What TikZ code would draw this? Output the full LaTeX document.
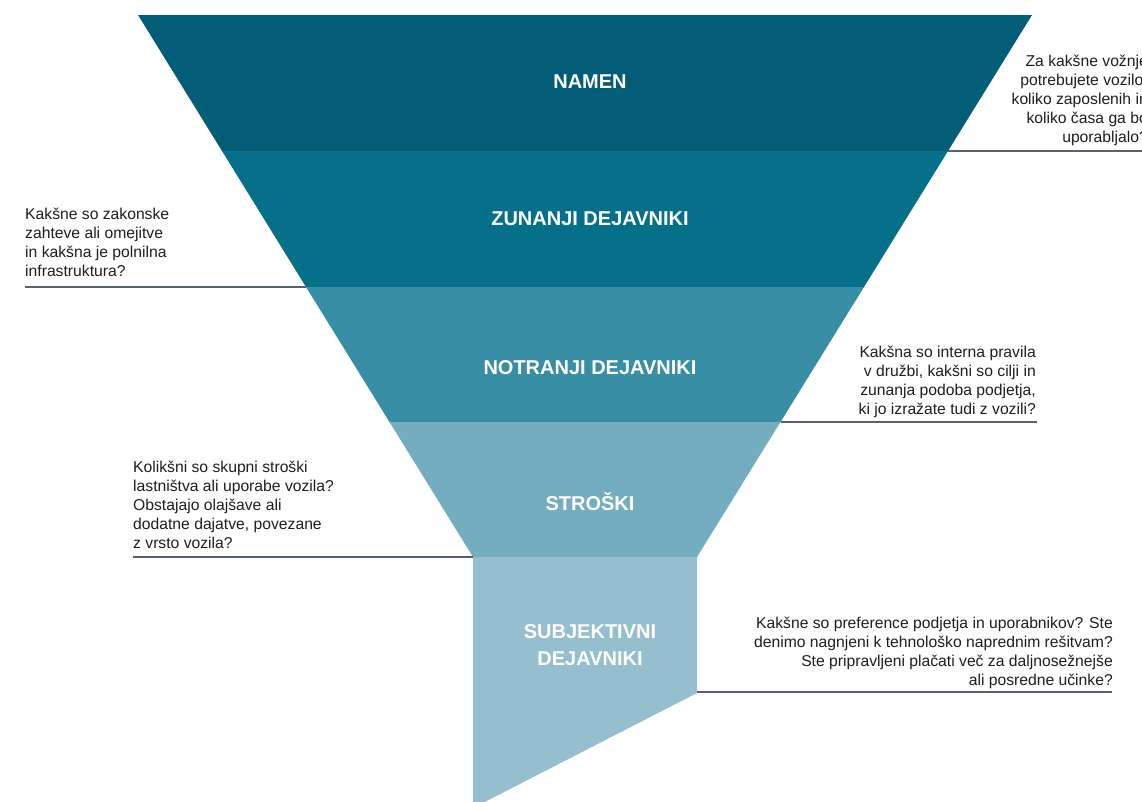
\documentclass[tikz,border=0pt]{standalone}
\usepackage{fontspec}
\setmainfont{Liberation Sans}

\definecolor{namenc}{HTML}{035D76}
\definecolor{zunanjic}{HTML}{066F89}
\definecolor{notranjic}{HTML}{388EA5}
\definecolor{stroskic}{HTML}{74ADC0}
\definecolor{subjc}{HTML}{95BECF}
\definecolor{rulec}{HTML}{56616B}
\definecolor{qtextc}{HTML}{1E1E1E}

\begin{document}
\begin{tikzpicture}[x=1pt,y=-1pt,
        title/.style={text=white,font=\bfseries\fontsize{20}{27}\selectfont,align=center,inner sep=0pt},
        question/.style={text=qtextc,font=\fontsize{15.7}{18.9}\selectfont,inner sep=0pt},
        rule/.style={draw=rulec,line width=1.8pt}]
        \useasboundingbox (0,0) rectangle (1142,801);
        \clip (0,0) rectangle (1142,801);

        % funnel bands, top to bottom
        \fill[namenc]    (138,15) -- (1032,15) -- (948,151) -- (222,151) -- cycle;
        \fill[zunanjic]  (222,151) -- (948,151) -- (864,287) -- (306,287) -- cycle;
        \fill[notranjic] (306,287) -- (864,287) -- (780.5,422) -- (389.5,422) -- cycle;
        \fill[stroskic]  (389.5,422) -- (780.5,422) -- (697,557) -- (473,557) -- cycle;
        \fill[subjc]     (473,557) -- (697,557) -- (697,693) -- (473,808) -- cycle;

        \node[title] (namen)    at (590,82)  {NAMEN};
        \node[title] (zunanji)  at (590,219) {ZUNANJI DEJAVNIKI};
        \node[title] (notranji) at (590,368) {NOTRANJI DEJAVNIKI};
        \node[title] (stroski)  at (590,502) {STROŠKI};
        \node[title] (subj)     at (590,645) {SUBJEKTIVNI\\DEJAVNIKI};

        % questions beside the funnel
        \node[question,anchor=north east,align=right] (qnamen) at (1148,55)
            {Za kakšne vožnje\\potrebujete vozilo,\\koliko zaposlenih in\\koliko časa ga bo\\uporabljalo?};
        \node[question,anchor=north west,align=left] (qzunanji) at (25,208)
            {Kakšne so zakonske\\zahteve ali omejitve\\in kakšna je polnilna\\infrastruktura?};
        \node[question,anchor=north east,align=right] (qnotranji) at (1036,346)
            {Kakšna so interna pravila\\v družbi, kakšni so cilji in\\zunanja podoba podjetja,\\ki jo izražate tudi z vozili?};
        \node[question,anchor=north west,align=left] (qstroski) at (133,461)
            {Kolikšni so skupni stroški\\lastništva ali uporabe vozila?\\Obstajajo olajšave ali\\dodatne dajatve, povezane\\z vrsto vozila?};
        \node[question,anchor=north east,align=right] (qsubj) at (1113,617)
            {Kakšne so preference podjetja in uporabnikov? Ste\\denimo nagnjeni k tehnološko naprednim rešitvam?\\Ste pripravljeni plačati več za daljnosežnejše\\ali posredne učinke?};

        % rules from the funnel edge under each question
        \coordinate (r1a) at (948,151);   \coordinate (r1b) at (1142,151);
        \coordinate (r2a) at (25,287);    \coordinate (r2b) at (306,287);
        \coordinate (r3a) at (780.5,422); \coordinate (r3b) at (1037,422);
        \coordinate (r4a) at (133,557);   \coordinate (r4b) at (473,557);
        \coordinate (r5a) at (697,692);   \coordinate (r5b) at (1112,692);

        \path [rule](r1a) edge (r1b);
        \path [rule](r2a) edge (r2b);
        \path [rule](r3a) edge (r3b);
        \path [rule](r4a) edge (r4b);
        \path [rule](r5a) edge (r5b);
\end{tikzpicture}
\end{document}
